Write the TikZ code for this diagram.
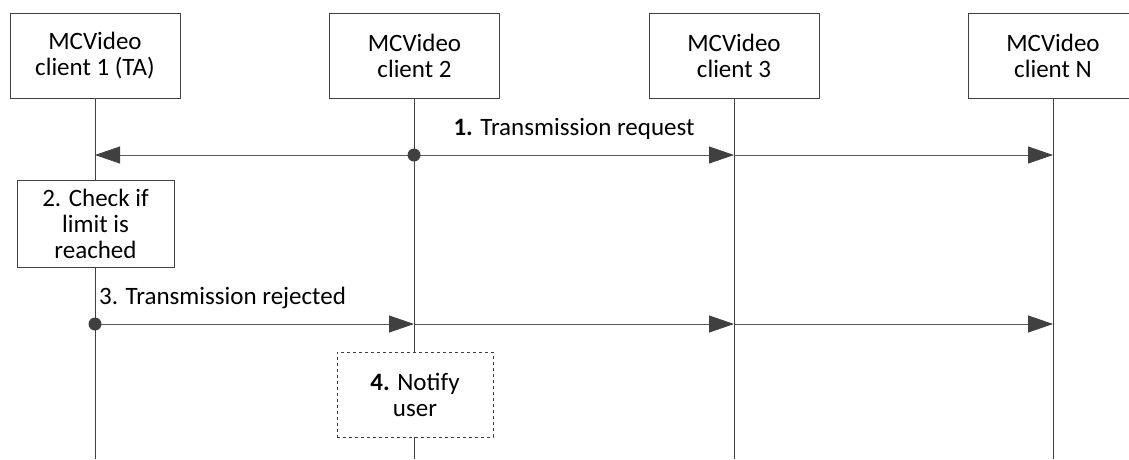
\documentclass[tikz,border=0pt]{standalone}
\usepackage{fontspec}
\setmainfont{Carlito}
\usetikzlibrary{arrows.meta}
\definecolor{lineg}{HTML}{5A5A5A}
\definecolor{headg}{HTML}{404040}
\begin{document}
\begin{tikzpicture}[x=1pt,y=-1pt,
  every node/.style={font=\fontsize{25}{26}\selectfont, text=black},
  actor/.style={draw=headg, line width=0.8pt, minimum width=170pt, minimum height=85pt, align=center, inner sep=0pt, fill=white},
  procbox/.style={draw=headg, line width=0.8pt, align=center, inner sep=0pt, fill=white},
  life/.style={draw=headg, line width=0.8pt},
  msg/.style={draw=lineg, line width=0.8pt, -{Triangle[length=25pt,width=17pt,fill=headg,color=headg]}},
  dot/.style={circle, fill=headg, inner sep=0pt, minimum size=13pt}
]
\useasboundingbox (0,0) rectangle (1129,459);
% actors
\node[actor] (a1) at (95,55.5) {MCVideo\\client 1 (TA)};
\node[actor] (a2) at (414.5,55.5) {MCVideo\\client 2};
\node[actor] (a3) at (734,55.5) {MCVideo\\client 3};
\node[actor] (a4) at (1053,55.5) {MCVideo\\client N};
% bottom coordinates
\coordinate (b1) at (95,459);
\coordinate (b2) at (414,459);
\coordinate (b3) at (734,459);
\coordinate (b4) at (1053,459);
% lifelines
\draw[life] (a1.south -| b1) -- (b1);
\draw[life] (a2.south -| b2) -- (b2);
\draw[life] (a3.south -| b3) -- (b3);
\draw[life] (a4.south -| b4) -- (b4);
% process boxes
\node[procbox, minimum width=157pt, minimum height=87pt] (p2) at (95.5,223.5) {2. Check if\\limit is\\reached};
\node[procbox, dashed, minimum width=156pt, minimum height=85pt] (p4) at (415,394.5) {\textbf{4.} Notify\\user};
% message 1
\coordinate (m1s) at (414,155);
\coordinate (m1l) at (95,155);
\coordinate (m1c) at (734,155);
\coordinate (m1n) at (1053,155);
\draw[msg] (m1s) -- (m1l);
\draw[msg] (m1s) -- (m1c);
\draw[msg] (m1c) -- (m1n);
\node[dot] (d1) at (m1s) {};
\node (l1) at (574,129) {\textbf{1.} Transmission request};
% message 3
\coordinate (m3s) at (95,324);
\coordinate (m3b) at (414,324);
\coordinate (m3c) at (734,324);
\coordinate (m3n) at (1053,324);
\draw[msg] (m3s) -- (m3b);
\draw[msg] (m3b) -- (m3c);
\draw[msg] (m3c) -- (m3n);
\node[dot] (d3) at (m3s) {};
\node[anchor=west, inner sep=0pt] (l3) at (99,298) {3. Transmission rejected};
\end{tikzpicture}
\end{document}
